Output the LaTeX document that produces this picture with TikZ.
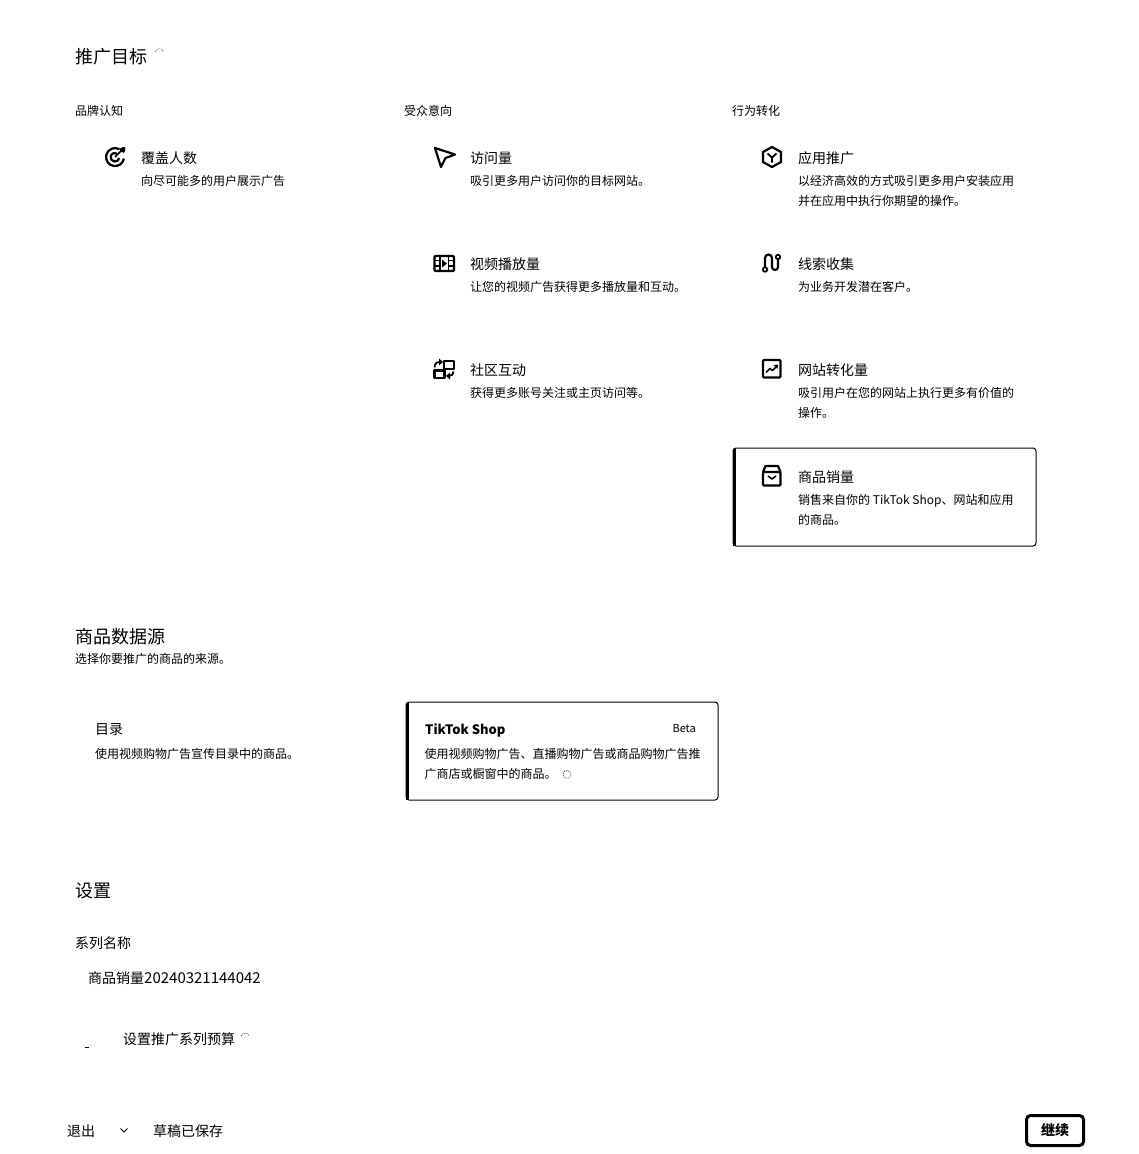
\documentclass[tikz,border=0pt]{standalone}
\usepackage{fontspec}
\setmainfont{Noto Sans CJK SC}
\tikzset{
  anytext/.style={inner sep=0pt,anchor=west,text height=0.8em,text depth=0.1em},
  headtext/.style={anytext,yshift=-3.5pt,font=\fontsize{18}{18}\selectfont},
  itemtext/.style={anytext,yshift=-2pt,font=\fontsize{14}{14}\selectfont},
  desctext/.style={anytext,yshift=-1pt,font=\fontsize{12}{12}\selectfont},
  glyph/.style={draw=black,line width=2.2pt,line join=round,fill=none},
  cardframe/.style={draw=black,line width=1pt,rounded corners=3pt,fill=white},
  cardbar/.style={fill=black,draw=none},
  spinmark/.style={draw=black,line width=0.5pt,dash pattern=on 1pt off 1.2pt}
}
\begin{document}
\begin{tikzpicture}[x=1pt,y=-1pt]
\useasboundingbox (0,0) rectangle (1139,1154);
\fill[white] (0,0) rectangle (1139,1154);

% cards
\path[cardframe] (733,448) rectangle (1036,546);
\path[cardbar] (732.5,449) rectangle (736,546);
\path[cardframe] (406,702) rectangle (718,800);
\path[cardbar] (405.5,703) rectangle (409,800);

% section heads
\node[headtext] (goal) at (75,56) {推广目标};
\draw[spinmark] (155.3,51.5) arc (200:340:4.5);
\node[desctext] (cola) at (75,110.5) {品牌认知};
\node[desctext] (colb) at (404,110.5) {受众意向};
\node[desctext] (colc) at (732,110.5) {行为转化};

% column A
\node[itemtext] (reach) at (141,158) {覆盖人数};
\node[desctext] (reachd) at (141,180.5) {向尽可能多的用户展示广告};

% column B
\node[itemtext] (traffic) at (470,158) {访问量};
\node[desctext] (trafficd) at (470,180.5) {吸引更多用户访问你的目标网站。};
\node[itemtext] (video) at (470,264) {视频播放量};
\node[desctext] (videod) at (470,286.5) {让您的视频广告获得更多播放量和互动。};
\node[itemtext] (comm) at (470,370) {社区互动};
\node[desctext] (commd) at (470,392.5) {获得更多账号关注或主页访问等。};

% column C
\node[itemtext] (app) at (798,158) {应用推广};
\node[desctext] (appd) at (798,180.5) {以经济高效的方式吸引更多用户安装应用};
\node[desctext] (appe) at (798,200.5) {并在应用中执行你期望的操作。};
\node[itemtext] (lead) at (798,264) {线索收集};
\node[desctext] (leadd) at (798,286.5) {为业务开发潜在客户。};
\node[itemtext] (web) at (798,370) {网站转化量};
\node[desctext] (webd) at (798,392.5) {吸引用户在您的网站上执行更多有价值的};
\node[desctext] (webe) at (798,412.5) {操作。};
\node[itemtext] (sales) at (798,477) {商品销量};
\node[desctext] (salesd) at (798,499.5) {销售来自你的 TikTok Shop、网站和应用};
\node[desctext] (salese) at (798,519.5) {的商品。};

% product source
\node[headtext] (src) at (75,636) {商品数据源};
\node[desctext] (srcd) at (75,658.5) {选择你要推广的商品的来源。};
\node[itemtext] (cat) at (95,729) {目录};
\node[desctext] (catd) at (95,753.5) {使用视频购物广告宣传目录中的商品。};
\node[itemtext,font=\bfseries\fontsize{13}{13}\selectfont] (shop) at (425,729) {TikTok Shop};
\node[anytext,font=\fontsize{11}{11}\selectfont,anchor=east] (beta) at (696,728.5) {Beta};
\node[desctext] (shopd) at (424.5,753.5) {使用视频购物广告、直播购物广告或商品购物广告推};
\node[desctext] (shope) at (424.5,773.5) {广商店或橱窗中的商品。};
\draw[spinmark] (567,774.5) circle (4);

% settings
\node[headtext] (set) at (75,890) {设置};
\node[itemtext] (name) at (75,942.5) {系列名称};
\node[itemtext] (namev) at (88,978) {商品销量{\fontsize{15}{15}\selectfont 20240321144042}};
\node[itemtext] (budget) at (123,1038.5) {设置推广系列预算};
\draw[spinmark] (241,1036) arc (200:340:4.5);
\draw[black,line width=1pt] (85,1047.5) -- (88.5,1047.5);

% footer
\node[itemtext] (exit) at (67,1131) {退出};
\coordinate (chevl) at (120.5,1128.5);
\coordinate (chevm) at (124,1132);
\coordinate (chevr) at (127.5,1128.5);
\draw[black,line width=1pt] (chevl) -- (chevm) -- (chevr);
\node[itemtext] (draft) at (153,1131) {草稿已保存};
\node[draw=black,line width=3pt,rounded corners=4pt,minimum width=57pt,minimum height=30pt,inner sep=0pt,font=\bfseries\fontsize{14}{14}\selectfont] (cont) at (1055,1130.5) {\raisebox{-1pt}{继续}};

% icon: target
\draw[glyph] (123.9,158.6) arc (10:300:9);
\draw[glyph] (119.2,158) arc (10:300:4.3);
\draw[glyph,line width=1.6pt] (115,157) -- (122,150);
\fill[black] (120,148.5) -- (123,147) -- (125.5,147.5) -- (125,151) -- (123.5,153) -- (120,150.5) -- cycle;

% icon: cursor
\draw[glyph] (435,148) -- (455,154.5) -- (445.5,158) -- (441,167) -- cycle;

% icon: film
\draw[glyph,rounded corners=1pt] (434.5,256) rectangle (454,271);
\draw[glyph,line width=1.8pt] (440,256) -- (440,271) (448.5,256) -- (448.5,271);
\draw[glyph,line width=1.4pt] (434,260.5) -- (440,260.5) (434,266) -- (440,266) (448,260.5) -- (454,260.5) (448,266) -- (454,266);
\fill[black] (442,259.5) -- (447,263.5) -- (442,267.5) -- cycle;

% icon: community
\draw[glyph] (444,361) rectangle (454,369);
\draw[glyph] (434.5,370.5) rectangle (444.5,378);
\draw[glyph,line width=1.8pt] (434.5,367.5) .. controls (434.5,364) and (436,362) .. (440,362);
\fill[black] (439,358.5) -- (443,362) -- (439,365.5) -- cycle;
\draw[glyph,line width=1.8pt] (453.5,371.5) .. controls (453.5,374) and (452,376) .. (449,376);
\fill[black] (450,372.5) -- (446,376) -- (450,379.5) -- cycle;

% icon: hexagon
\draw[glyph] (772,147) -- (781,152) -- (781,162) -- (772,167) -- (763,162) -- (763,152) -- cycle;
\draw[glyph,line width=1.8pt] (767.5,153.5) -- (772,157.5) -- (776.5,153.5) (772,157.5) -- (772,162.5);

% icon: path
\draw[glyph] (765,267) -- (765,258) arc (180:360:3.5) -- (772,267) arc (180:0:3) -- (778,260);
\draw[glyph,line width=1.8pt] (765,269.5) circle (2.2);
\draw[glyph,line width=1.8pt] (778,257) circle (2.2);

% icon: chart
\draw[glyph,rounded corners=1pt] (763,360) rectangle (780.5,377.5);
\draw[glyph,line width=1.6pt] (766,372.5) -- (770,368.5) -- (772.5,370.5) -- (777,366);
\fill[black] (773.5,365) -- (778,364.5) -- (777.5,369) -- cycle;

% icon: bag
\draw[glyph,rounded corners=1pt] (763,472) rectangle (780.5,485.5);
\draw[glyph] (763,472) -- (765.5,466) -- (778,466) -- (780.5,472);
\draw[glyph,line width=1.6pt] (768,476) -- (772,479) -- (776,476);
\end{tikzpicture}
\end{document}
